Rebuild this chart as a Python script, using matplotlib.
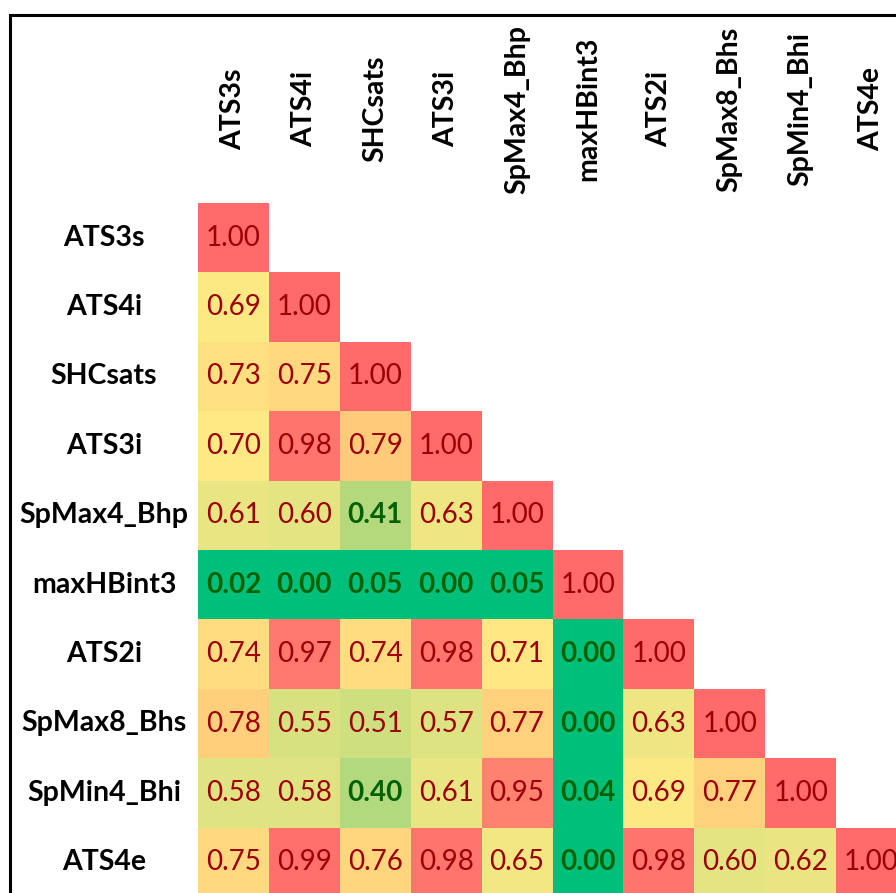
import numpy as np
import matplotlib.pyplot as plt
from matplotlib.colors import LinearSegmentedColormap
from matplotlib.patches import Rectangle

plt.rcParams['font.family'] = ['Lato', 'DejaVu Sans']

# descriptors (rows and columns are the same)
names = ["ATS3s", "ATS4i", "SHCsats", "ATS3i", "SpMax4_Bhp",
         "maxHBint3", "ATS2i", "SpMax8_Bhs", "SpMin4_Bhi", "ATS4e"]

# lower triangle of the correlation matrix, row by row
row_ATS3s = [1.00]
row_ATS4i = [0.69, 1.00]
row_SHCsats = [0.73, 0.75, 1.00]
row_ATS3i = [0.70, 0.98, 0.79, 1.00]
row_SpMax4_Bhp = [0.61, 0.60, 0.41, 0.63, 1.00]
row_maxHBint3 = [0.02, 0.00, 0.05, 0.00, 0.05, 1.00]
row_ATS2i = [0.74, 0.97, 0.74, 0.98, 0.71, 0.00, 1.00]
row_SpMax8_Bhs = [0.78, 0.55, 0.51, 0.57, 0.77, 0.00, 0.63, 1.00]
row_SpMin4_Bhi = [0.58, 0.58, 0.40, 0.61, 0.95, 0.04, 0.69, 0.77, 1.00]
row_ATS4e = [0.75, 0.99, 0.76, 0.98, 0.65, 0.00, 0.98, 0.60, 0.62, 1.00]

rows = [row_ATS3s, row_ATS4i, row_SHCsats, row_ATS3i, row_SpMax4_Bhp,
        row_maxHBint3, row_ATS2i, row_SpMax8_Bhs, row_SpMin4_Bhi, row_ATS4e]

n = len(names)
mat = np.full((n, n), np.nan)
for i, r in enumerate(rows):
    mat[i, :len(r)] = r
mat = np.ma.masked_invalid(mat)

# excel-like green / yellow / red scale
cmap = LinearSegmentedColormap.from_list("gyr", [
    (0.00, (0 / 255, 191 / 255, 122 / 255)),
    (0.06, (0 / 255, 191 / 255, 122 / 255)),
    (0.40, (178 / 255, 217 / 255, 125 / 255)),
    (0.70, (255 / 255, 234 / 255, 132 / 255)),
    (0.80, (255 / 255, 200 / 255, 122 / 255)),
    (1.00, (255 / 255, 107 / 255, 107 / 255)),
])
cmap.set_bad("white")

W, H = 896, 893
fig = plt.figure(figsize=(W / 100, H / 100), dpi=100)

# axes placed in pixels, running off the right / bottom edge like the screenshot
x0, y0, cw, ch = 198, 203, 70.9, 69.4
ax = fig.add_axes([x0 / W, 1 - (y0 + n * ch) / H, n * cw / W, n * ch / H])
ax.pcolormesh(np.arange(n + 1), np.arange(n + 1), mat, cmap=cmap, vmin=0, vmax=1)
ax.set_xlim(0, n)
ax.set_ylim(n, 0)
ax.axis("off")

for i in range(n):
    for j in range(n):
        if np.ma.is_masked(mat[i, j]):
            continue
        v = mat[i, j]
        if v < 0.5:
            ax.text(j + 0.5, i + 0.5, f"{v:.2f}", ha="center", va="center",
                    fontsize=20, color="#006100", fontweight="bold", clip_on=False)
        else:
            ax.text(j + 0.5, i + 0.5, f"{v:.2f}", ha="center", va="center",
                    fontsize=20, color="#9C0006", clip_on=False)

# row labels
for i, name in enumerate(names):
    ax.text((104 - x0) / cw, i + 0.5, name, ha="center", va="center",
            fontsize=20.5, fontweight="bold", clip_on=False)
# column labels
for j, name in enumerate(names):
    ax.text(j + 0.5, (109 - y0) / ch, name, ha="center", va="center",
            rotation=90, fontsize=20.5, fontweight="bold", clip_on=False)

# frame (left and top edges visible)
fig.add_artist(Rectangle((10 / W, -0.5), 2, 1.5 - 15 / H, transform=fig.transFigure,
                         fill=False, edgecolor="black", linewidth=2.2))

fig.savefig("out.png", dpi=100)
